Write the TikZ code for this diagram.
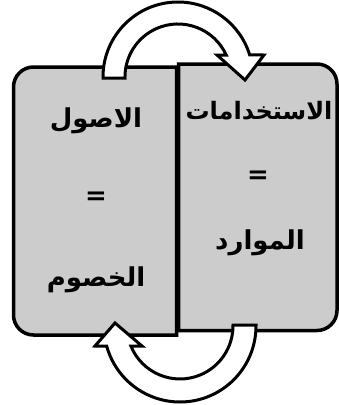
\documentclass[tikz,border=0pt]{standalone}
\usepackage{fontspec}
\newfontfamily\arabicfont[Script=Arabic]{DejaVu Sans}
\TeXXeTstate=1
\begin{document}
\begin{tikzpicture}[x=1pt,y=-1pt,
  boxstyle/.style={draw=black,fill=boxgray,line width=3.5pt,line join=miter},
  arrowstyle/.style={draw=black,fill=white,line width=3pt,line join=miter},
  label/.style={font=\arabicfont\bfseries\fontsize{26}{30}\selectfont,inner sep=0pt,anchor=center},
  longlabel/.style={label,font=\arabicfont\bfseries\fontsize{24}{28}\selectfont}]
\definecolor{boxgray}{RGB}{204,204,204}
\useasboundingbox (0,0) rectangle (339,405);
% left box
\draw[boxstyle] (176.5,67) -- (33.5,67) arc[start angle=270,end angle=180,radius=20]
  -- (13.5,315) arc[start angle=180,end angle=90,radius=20] -- (176.5,335) -- cycle;
% right box
\draw[boxstyle] (178.5,64) -- (317,64) arc[start angle=270,end angle=360,radius=20]
  -- (337,310.5) arc[start angle=0,end angle=90,radius=20] -- (178.5,330.5) -- cycle;
% top arrow
\draw[arrowstyle] (103,78) -- (103,77) arc[start angle=180,end angle=342.9,radius=75]
  -- (264,55) -- (245,80) -- (217,55) -- (226.2,55)
  arc[start angle=335.5,end angle=180,radius=53] -- (125,78) -- cycle;
% bottom arrow
\draw[arrowstyle] (256,325) -- (256,326) arc[start angle=0,end angle=164.7,radius=76]
  -- (95,346) -- (115,323) -- (142,346) -- (130.9,346)
  arc[start angle=157.8,end angle=0,radius=53] -- (233,325) -- cycle;
% texts
\node[label] (asl) at (96,121) {\beginR الاصول\endR};
\node[label] (eq1) at (96,198) {=};
\node[label] (khs) at (96,280) {\beginR الخصوم\endR};
\node[longlabel] (ist) at (259,111) {\beginR الاستخدامات\endR};
\node[label] (eq2) at (258,177) {=};
\node[label] (mwr) at (260,243) {\beginR الموارد\endR};
\end{tikzpicture}
\end{document}
